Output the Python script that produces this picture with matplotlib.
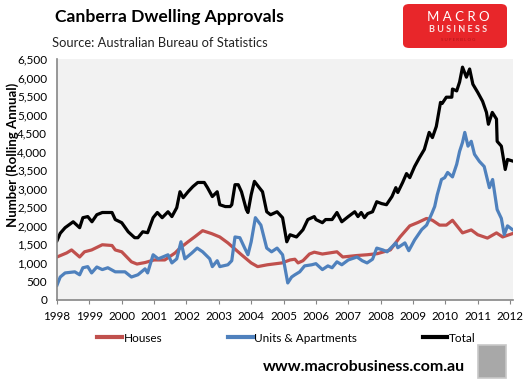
import matplotlib
matplotlib.use("Agg")
import matplotlib.pyplot as plt
from matplotlib.patches import Rectangle, FancyBboxPatch
from matplotlib.lines import Line2D

# ---- data (decimal year, value) ----
houses = [(1998.0,1160),(1998.3,1270),(1998.45,1350),(1998.7,1160),(1998.85,1300),(1999.07,1350),
          (1999.4,1490),(1999.7,1470),(1999.8,1350),(2000.0,1300),(2000.3,1030),(2000.47,970),
          (2000.72,1010),(2001.0,1080),(2001.33,1080),(2001.65,1270),(2001.8,1400),(2002.05,1570),
          (2002.25,1700),(2002.5,1870),(2002.78,1790),(2003.03,1700),(2003.28,1540),(2003.7,1220),
          (2004.0,1000),(2004.2,900),(2004.5,950),(2004.95,1000),(2005.2,1080),(2005.35,1100),
          (2005.45,1000),(2005.6,1060),(2005.8,1240),(2005.95,1290),(2006.2,1240),(2006.65,1300),
          (2006.83,1160),(2007.27,1200),(2007.58,1220),(2007.9,1250),(2008.3,1350),(2008.6,1700),
          (2008.9,2000),(2009.15,2090),(2009.42,2200),(2009.6,2150),(2009.82,2020),(2010.03,2020),
          (2010.22,2150),(2010.53,1810),(2010.8,1890),(2011.0,1760),(2011.3,1670),(2011.58,1810),
          (2011.77,1700),(2012.07,1790)]

units = [(1998.0,400),(1998.1,620),(1998.25,730),(1998.55,760),(1998.7,680),(1998.8,870),
         (1998.95,900),(1999.07,730),(1999.23,890),(1999.4,820),(1999.57,870),(1999.8,760),
         (2000.1,760),(2000.3,620),(2000.5,680),(2000.72,840),(2000.8,730),(2000.97,1220),
         (2001.13,1110),(2001.43,1220),(2001.55,1000),(2001.7,1110),(2001.83,1570),(2001.95,1110),
         (2002.17,1270),(2002.33,1400),(2002.5,1300),(2002.72,1110),(2002.8,900),(2002.95,1060),
         (2003.03,900),(2003.28,950),(2003.4,1060),(2003.5,1700),(2003.65,1680),(2003.8,1400),
         (2003.9,1220),(2004.0,1570),(2004.13,2220),(2004.3,2020),(2004.48,1400),(2004.63,1300),
         (2004.8,1400),(2004.97,1220),(2005.13,460),(2005.25,620),(2005.35,680),(2005.5,760),
         (2005.65,920),(2005.87,950),(2006.0,980),(2006.2,820),(2006.37,920),(2006.5,870),
         (2006.65,1030),(2006.8,950),(2007.0,1080),(2007.27,1160),(2007.43,1060),(2007.58,1000),
         (2007.75,1100),(2007.88,1400),(2008.07,1350),(2008.2,1300),(2008.37,1450),(2008.47,1540),
         (2008.53,1410),(2008.75,1540),(2008.87,1330),(2009.05,1620),(2009.27,1900),(2009.42,2020),
         (2009.58,2330),(2009.67,2520),(2009.75,2840),(2009.88,3250),(2009.98,3300),(2010.07,3440),
         (2010.22,3320),(2010.35,3660),(2010.44,4010),(2010.53,4250),(2010.6,4520),(2010.7,4150),
         (2010.8,4280),(2010.9,3930),(2011.05,3740),(2011.2,3600),(2011.36,3030),(2011.46,3250),
         (2011.6,2440),(2011.73,2200),(2011.82,1760),(2011.92,2000),(2012.07,1900)]

total = [(1998.0,1600),(1998.1,1800),(1998.25,1950),(1998.5,2110),(1998.7,1950),(1998.8,2220),
         (1998.95,2250),(1999.08,2110),(1999.23,2300),(1999.4,2360),(1999.7,2360),(1999.8,2170),
         (2000.0,2085),(2000.2,1840),(2000.4,1680),(2000.5,1680),(2000.65,1840),(2000.8,1815),
         (2000.97,2220),(2001.1,2360),(2001.25,2220),(2001.43,2380),(2001.55,2250),(2001.7,2490),
         (2001.8,2920),(2001.9,2760),(2002.05,2920),(2002.2,3060),(2002.35,3170),(2002.55,3170),
         (2002.65,3030),(2002.8,2790),(2002.95,2920),(2003.03,2570),(2003.2,2520),(2003.35,2520),
         (2003.4,2570),(2003.5,3110),(2003.6,3110),(2003.7,2920),(2003.85,2440),(2003.9,2360),
         (2004.0,2840),(2004.1,3200),(2004.25,3030),(2004.35,2920),(2004.48,2380),(2004.6,2300),
         (2004.8,2380),(2004.97,2220),(2005.1,1570),(2005.2,1760),(2005.4,1700),(2005.6,1895),
         (2005.75,2170),(2005.95,2250),(2006.0,2170),(2006.2,2085),(2006.3,2170),(2006.5,2170),
         (2006.65,2360),(2006.8,2110),(2007.0,2250),(2007.2,2380),(2007.3,2250),(2007.4,2360),
         (2007.5,2220),(2007.6,2330),(2007.75,2380),(2007.88,2650),(2008.03,2600),(2008.18,2570),
         (2008.35,2790),(2008.47,3030),(2008.53,2900),(2008.68,3170),(2008.8,3410),(2008.9,3300),
         (2009.05,3600),(2009.2,3840),(2009.35,4060),(2009.5,4520),(2009.6,4380),(2009.72,4680),
         (2009.85,5330),(2009.9,5300),(2010.03,5470),(2010.2,5470),(2010.22,5690),(2010.35,5640),
         (2010.44,5880),(2010.53,6280),(2010.65,6010),(2010.75,6230),(2010.85,5820),(2011.0,5600),
         (2011.15,5360),(2011.27,5060),(2011.33,4740),(2011.45,5060),(2011.58,4880),(2011.6,4280),
         (2011.73,4150),(2011.85,3520),(2011.92,3790),(2012.07,3750)]

years = list(range(1998, 2013))
y_ticks = list(range(0, 6501, 500))
series_names = ["Houses", "Units & Apartments", "Total"]
colors = ["#C0504D", "#4F81BD", "#000000"]

W, H = 529, 385
fig = plt.figure(figsize=(W/100, H/100), dpi=100)
fig.patch.set_facecolor("white")
FONT = "Lato"

ax = fig.add_axes([57/W, 1-300/H, 456/W, 241/H])
ax.set_facecolor("#F2F2F2")
for data, c in zip([houses, units, total], colors):
    xs, vs = zip(*data)
    ax.plot(xs, vs, color=c, lw=2.3, solid_joinstyle="round")

ax.set_xlim(1998, 2012.09)
ax.set_ylim(0, 6500)
ax.set_xticks(years)
ax.set_xticklabels([str(y) for y in years], fontsize=8.4, family=FONT)
ax.set_yticks(y_ticks)
ax.set_yticklabels([f"{v:,}" for v in y_ticks], fontsize=8.5, family=FONT)
ax.tick_params(axis="x", length=3, color="#868686", pad=5)
ax.tick_params(axis="y", length=0, pad=7)
for s in ["top", "right"]:
    ax.spines[s].set_visible(False)
for s in ["left", "bottom"]:
    ax.spines[s].set_color("#868686")
    ax.spines[s].set_linewidth(1.2)

fig.text(13/W, 1-155/H, "Number (Rolling Annual)", rotation=90, ha="center", va="center",
         fontsize=9.5, fontweight="bold", family=FONT)

fig.text(55/W, 1-17/H, "Canberra Dwelling Approvals", fontsize=12.6, fontweight="bold",
         family=FONT, va="center", ha="left")
fig.text(52/W, 1-43/H, "Source: Australian Bureau of Statistics", fontsize=9.3,
         family=FONT, va="center", ha="left", color="#222222")

# logo
logo = FancyBboxPatch((403/W, 1-48/H), 104/W, 44/H, boxstyle="round,pad=0,rounding_size=0.012",
                      transform=fig.transFigure, facecolor="#E8262A", edgecolor="none")
fig.patches.append(logo)
fig.text(458/W, 1-17/H, "M A C R O", color="white", fontsize=9.5, family=FONT,
         ha="center", va="center")
fig.text(458/W, 1-30/H, "B U S I N E S S", color="#FBE3E3", fontsize=6.5, family=FONT,
         fontweight="bold", ha="center", va="center")
fig.text(458/W, 1-40/H, "S U P E R B L O G", color="#B01519", fontsize=3.2, family=FONT,
         ha="center", va="center")

# legend
handles = [Line2D([], [], color=c, lw=3) for c in colors]
fig.legend(handles, series_names, loc="center left", bbox_to_anchor=(97/W, 1-338/H),
           ncol=3, frameon=False, handlelength=2.1, handletextpad=0.15, columnspacing=5.55,
           prop={"family": FONT, "size": 8.5}, borderaxespad=0, borderpad=0)

fig.text(263/W, 1-367/H, "www.macrobusiness.com.au", fontsize=11.5, fontweight="bold",
         family=FONT, va="center", ha="left")
wolf = Rectangle((478/W, 1-378/H), 28/W, 33/H, transform=fig.transFigure,
                 facecolor="#A8A8A8", edgecolor="#C8C8C8", lw=1.2)
fig.patches.append(wolf)

fig.savefig("out.png", dpi=100)
